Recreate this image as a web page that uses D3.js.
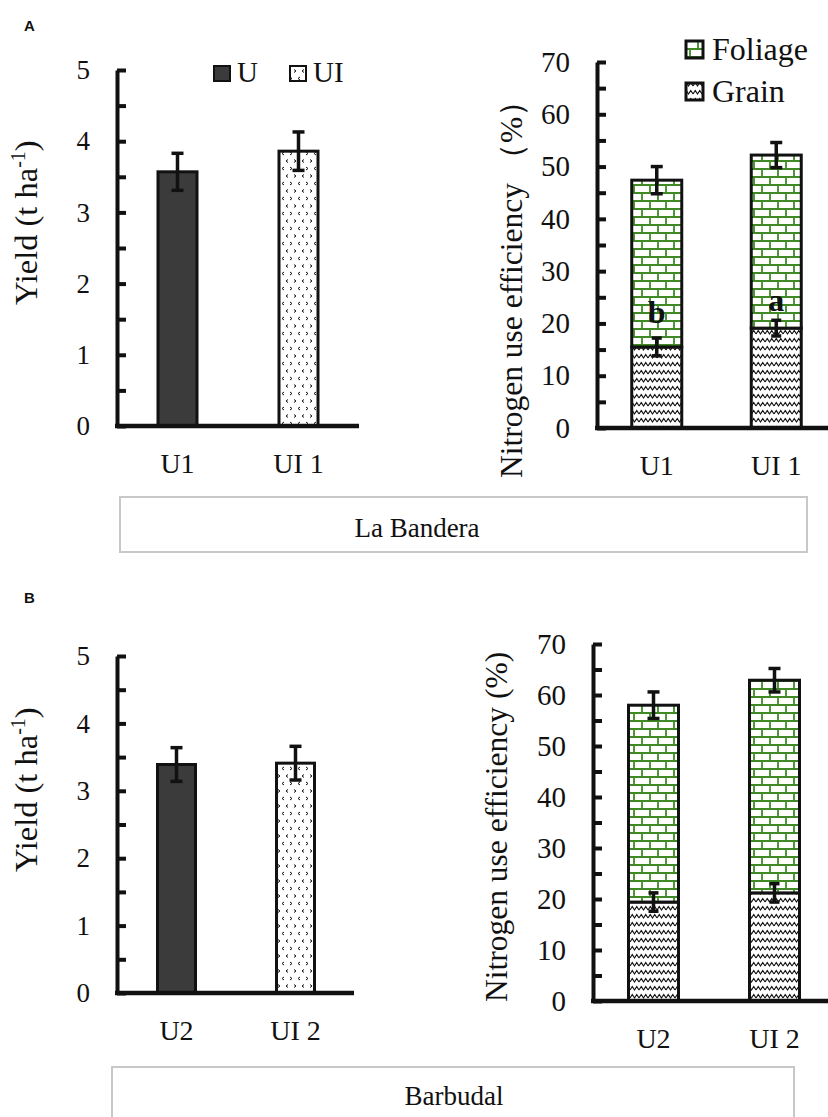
<!DOCTYPE html>
<html>
<head>
<meta charset="utf-8">
<script src="https://cdn.jsdelivr.net/npm/d3@7"></script>
<style>
  html, body { margin: 0; padding: 0; background: #fff; }
  svg { display: block; }
  text { font-family: "Liberation Serif", "Times New Roman", serif; fill: #111; }
</style>
</head>
<body>
<svg id="chart" width="828" height="1117"></svg>
<script>
// ---------------- DATA ----------------
const catsA = ["U1", "UI 1"];
const catsB = ["U2", "UI 2"];
const legendYield = ["U", "UI"];
const legendNue = ["Foliage", "Grain"];

const yieldA = [3.57, 3.86];
const yieldErrA = [0.26, 0.27];
const yieldB = [3.39, 3.41];
const yieldErrB = [0.25, 0.25];

const grainA = [15.5, 19.1];
const grainErrA = [1.7, 1.5];
const foliageA = [31.9, 33.1];
const totalErrA = [2.6, 2.4];
const lettersA = ["b", "a"];

const grainB = [19.4, 21.2];
const grainErrB = [1.8, 1.8];
const foliageB = [38.6, 41.7];
const totalErrB = [2.6, 2.3];

const yieldTicks = [0, 1, 2, 3, 4, 5];
const yieldMinor = [0.5, 1.5, 2.5, 3.5, 4.5];
const nueTicks = [0, 10, 20, 30, 40, 50, 60, 70];
const nueMinor = [5, 15, 25, 35, 45, 55, 65];

const siteNames = ["La Bandera", "Barbudal"];
const panelLabels = ["A", "B"];

// ---------------- SETUP ----------------
const svg = d3.select("#chart");
const defs = svg.append("defs");
const GREEN = "#3f8a24";
const SERIF = "'Liberation Serif', 'Times New Roman', serif";

// UI pattern: small chevrons
const pUI = defs.append("pattern").attr("id", "pUI").attr("patternUnits", "userSpaceOnUse")
  .attr("width", 16).attr("height", 15);
pUI.append("rect").attr("width", 16).attr("height", 15).attr("fill", "#fff");
["M2,2 L4,3.5 L2,5", "M12,2 L10,3.5 L12,5", "M6,9.5 L8,11 L6,12.5", "M16,9.5 L14,11 L16,12.5"]
  .forEach(d => pUI.append("path").attr("d", d).attr("fill", "none").attr("stroke", "#111").attr("stroke-width", 1));

// Brick pattern (foliage)
const pBrick = defs.append("pattern").attr("id", "pBrick").attr("patternUnits", "userSpaceOnUse")
  .attr("width", 16).attr("height", 16);
pBrick.append("rect").attr("width", 16).attr("height", 16).attr("fill", "#fff");
pBrick.append("path").attr("d", "M0,1 H16 M0,9 H16 M2,1 V9 M10,9 V17")
  .attr("stroke", GREEN).attr("stroke-width", 1.8).attr("fill", "none");

// Wave pattern (grain)
const pWave = defs.append("pattern").attr("id", "pWave").attr("patternUnits", "userSpaceOnUse")
  .attr("width", 9).attr("height", 8);
pWave.append("rect").attr("width", 9).attr("height", 8).attr("fill", "#fff");
pWave.append("path").attr("d", "M0,6 L2.25,2.5 L4.5,6 L6.75,2.5 L9,6")
  .attr("stroke", "#111").attr("stroke-width", 1.2).attr("fill", "none");

function errorBar(g, x, yv, err, y, capW) {
  g.append("line").attr("x1", x).attr("x2", x).attr("y1", y(yv + err)).attr("y2", y(yv - err))
    .attr("stroke", "#111").attr("stroke-width", 3.5);
  [yv + err, yv - err].forEach(v => g.append("line")
    .attr("x1", x - capW / 2).attr("x2", x + capW / 2).attr("y1", y(v)).attr("y2", y(v))
    .attr("stroke", "#111").attr("stroke-width", 3.5));
}

function yAxis(g, y, axX, ticks, minor, fontSize) {
  g.append("g").attr("transform", `translate(${axX},0)`)
    .call(d3.axisRight(y).tickValues(ticks.concat(minor)).tickSize(9).tickSizeOuter(0).tickFormat(""))
    .call(s => s.select(".domain").attr("stroke", "#111").attr("stroke-width", 4))
    .call(s => s.selectAll(".tick line").attr("stroke", "#111").attr("stroke-width", 4));
  g.append("g").attr("transform", `translate(${axX},0)`)
    .call(d3.axisLeft(y).tickValues(ticks).tickSize(0).tickPadding(27).tickFormat(d3.format("d")))
    .call(s => s.select(".domain").remove())
    .call(s => s.selectAll(".tick text").style("font-family", SERIF).attr("font-size", fontSize).attr("fill", "#111"));
}

function xAxis(g, x, y0, axX, axEnd, cats, fontSize) {
  g.append("line").attr("x1", axX - 2).attr("x2", axEnd).attr("y1", y0).attr("y2", y0)
    .attr("stroke", "#111").attr("stroke-width", 4.5);
  g.selectAll(".cat").data(cats).enter().append("text")
    .attr("x", d => x(d)).attr("y", y0 + 47).attr("text-anchor", "middle")
    .attr("font-size", fontSize).text(d => d);
}

function yieldChart(cfg) {
  const g = svg.append("g");
  const y = d3.scaleLinear().domain([0, 5]).range([cfg.y0, cfg.yTop]);
  const x = d3.scalePoint().domain(cfg.cats).range([cfg.axX, cfg.axX + 2 * cfg.step]).padding(0.5);
  const fills = ["#3b3b3b", "url(#pUI)"];
  g.selectAll(".bar").data(cfg.vals).enter().append("rect")
    .attr("x", (d, i) => x(cfg.cats[i]) - cfg.bw / 2).attr("width", cfg.bw)
    .attr("y", d => y(d)).attr("height", d => y(0) - y(d))
    .attr("fill", (d, i) => fills[i]).attr("stroke", "#111").attr("stroke-width", 3);
  cfg.vals.forEach((v, i) => errorBar(g, x(cfg.cats[i]), v, cfg.errs[i], y, 12));
  yAxis(g, y, cfg.axX, yieldTicks, yieldMinor, 27);
  xAxis(g, x, cfg.y0, cfg.axX, cfg.axEnd, cfg.cats, 28);
  const t = g.append("text").attr("transform", `translate(${cfg.titleX},${cfg.titleY}) rotate(-90)`)
    .attr("text-anchor", "start").attr("font-size", 32.5);
  t.append("tspan").text("Yield (t ha");
  t.append("tspan").attr("font-size", 20).attr("dy", -12).text("-1");
  t.append("tspan").attr("dy", 12).text(")");
  if (cfg.legend) {
    const L = cfg.legend;
    legendYield.forEach((name, i) => {
      g.append("rect").attr("x", L.xs[i]).attr("y", L.y).attr("width", 16).attr("height", 15)
        .attr("fill", fills[i]).attr("stroke", "#111").attr("stroke-width", 2);
      g.append("text").attr("x", L.xs[i] + 23).attr("y", L.y + 16).attr("font-size", 29).text(name);
    });
  }
}

function nueChart(cfg) {
  const g = svg.append("g");
  const y = d3.scaleLinear().domain([0, 70]).range([cfg.y0, cfg.yTop]);
  const x = d3.scalePoint().domain(cfg.cats).range([cfg.axX, cfg.axX + 2 * cfg.step]).padding(0.5);
  const stackData = cfg.cats.map((c, i) => ({ cat: c, Grain: cfg.grain[i], Foliage: cfg.foliage[i] }));
  const series = d3.stack().keys(["Grain", "Foliage"])(stackData);
  const fills = { Grain: "url(#pWave)", Foliage: "url(#pBrick)" };
  series.forEach(s => {
    g.selectAll(null).data(s).enter().append("rect")
      .attr("x", d => x(d.data.cat) - cfg.bw / 2).attr("width", cfg.bw)
      .attr("y", d => y(d[1])).attr("height", d => y(d[0]) - y(d[1]))
      .attr("fill", fills[s.key]).attr("stroke", "#111").attr("stroke-width", 3);
  });
  cfg.cats.forEach((c, i) => {
    errorBar(g, x(c), cfg.grain[i], cfg.grainErr[i], y, 10);
    errorBar(g, x(c), cfg.grain[i] + cfg.foliage[i], cfg.totalErr[i], y, 12);
  });
  if (cfg.letters) {
    cfg.cats.forEach((c, i) => {
      g.append("text").attr("x", x(c)).attr("y", y(cfg.grain[i]) - (i === 0 ? 24 : 17))
        .attr("text-anchor", "middle").attr("font-size", 32).attr("font-weight", "bold").text(cfg.letters[i]);
    });
  }
  yAxis(g, y, cfg.axX, nueTicks, nueMinor, 29);
  xAxis(g, x, cfg.y0, cfg.axX, cfg.axEnd, cfg.cats, 28);
  g.append("text").attr("transform", `translate(${cfg.titleX},${cfg.titleY}) rotate(-90)`)
    .attr("text-anchor", "start").attr("font-size", 31.5).text(cfg.title);
  if (cfg.legend) {
    const L = cfg.legend;
    legendNue.forEach((name, i) => {
      const yy = L.y + i * 42;
      g.append("rect").attr("x", L.x).attr("y", yy).attr("width", 17).attr("height", 17)
        .attr("fill", fills[name]).attr("stroke", "#111").attr("stroke-width", 3);
      g.append("text").attr("x", L.x + 26).attr("y", yy + 19).attr("font-size", 32).text(name);
    });
  }
}

// ---------------- PANEL A ----------------
svg.append("text").attr("x", 24).attr("y", 31)
  .style("font-family", "'Liberation Sans', Arial, sans-serif").attr("font-weight", "bold").attr("font-size", 15).text(panelLabels[0]);

yieldChart({ cats: catsA, vals: yieldA, errs: yieldErrA, y0: 426, yTop: 70, axX: 117, step: 121, axEnd: 359, bw: 39,
  titleX: 37, titleY: 305, legend: { xs: [214, 290], y: 66 } });

nueChart({ cats: catsA, grain: grainA, foliage: foliageA, grainErr: grainErrA, totalErr: totalErrA,
  y0: 428, yTop: 62, axX: 597, step: 119.5, axEnd: 830, bw: 50, letters: lettersA,
  titleX: 522, titleY: 478, title: "Nitrogen use efficiency （%）", legend: { x: 686, y: 41 } });

svg.append("rect").attr("x", 120).attr("y", 497).attr("width", 687).attr("height", 55)
  .attr("fill", "none").attr("stroke", "#c8c8c8").attr("stroke-width", 2);
svg.append("text").attr("x", 417).attr("y", 537).attr("text-anchor", "middle").attr("font-size", 27).text(siteNames[0]);

// ---------------- PANEL B ----------------
svg.append("text").attr("x", 24).attr("y", 603)
  .style("font-family", "'Liberation Sans', Arial, sans-serif").attr("font-weight", "bold").attr("font-size", 15).text(panelLabels[1]);

yieldChart({ cats: catsB, vals: yieldB, errs: yieldErrB, y0: 993, yTop: 656, axX: 117, step: 119, axEnd: 354, bw: 38,
  titleX: 37, titleY: 872 });

nueChart({ cats: catsB, grain: grainB, foliage: foliageB, grainErr: grainErrB, totalErr: totalErrB,
  y0: 1001, yTop: 644, axX: 593, step: 121, axEnd: 830, bw: 50,
  titleX: 507, titleY: 1002, title: "Nitrogen use efficiency (%)" });

svg.append("rect").attr("x", 112).attr("y", 1067).attr("width", 682).attr("height", 80)
  .attr("fill", "none").attr("stroke", "#c8c8c8").attr("stroke-width", 2);
svg.append("text").attr("x", 454).attr("y", 1105).attr("text-anchor", "middle").attr("font-size", 27).text(siteNames[1]);
</script>
</body>
</html>
